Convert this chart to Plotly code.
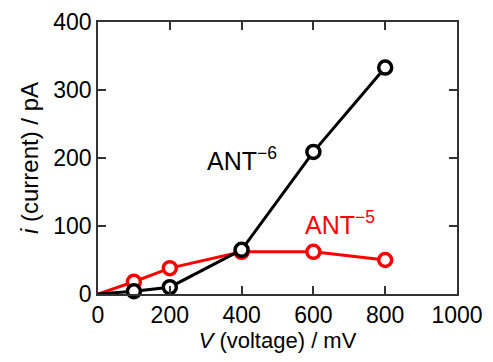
import plotly.graph_objects as go

voltage = [0, 100, 200, 400, 600, 800]
ant6_current = [0, 4, 10, 65, 209, 333]
ant5_current = [0, 18, 38, 62, 62, 50]
x_ticks = [0, 200, 400, 600, 800, 1000]
y_ticks = [0, 100, 200, 300, 400]

FONT = "Liberation Sans, Arial, Helvetica, sans-serif"

fig = go.Figure()
for y, color in [(ant5_current, "#ff0000"), (ant6_current, "#000000")]:
    fig.add_trace(go.Scatter(
        x=voltage, y=y, mode="lines",
        line=dict(color=color, width=3),
        showlegend=False, cliponaxis=False,
    ))
    fig.add_trace(go.Scatter(
        x=voltage[1:], y=y[1:], mode="markers",
        marker=dict(size=13, color="white", opacity=1,
                    line=dict(color=color, width=3.5)),
        showlegend=False, cliponaxis=False,
    ))

fig.add_annotation(x=402, y=198, text="ANT<sup>−6</sup>", showarrow=False,
                   font=dict(family=FONT, size=25, color="black"))
fig.add_annotation(x=675, y=104, text="ANT<sup>−5</sup>", showarrow=False,
                   font=dict(family=FONT, size=25, color="#ff0000"))

axis_common = dict(
    showline=True, linecolor="#333333", linewidth=1.5, mirror="ticks",
    ticks="inside", ticklen=8, tickwidth=1.5, tickcolor="#333333",
    showgrid=False, zeroline=False, automargin=False,
    tickfont=dict(family=FONT, size=23, color="black"),
)

fig.update_xaxes(range=[0, 1000], tickvals=x_ticks,
                 title=dict(text="<i>V</i> (voltage) / mV", standoff=4,
                            font=dict(family=FONT, size=22, color="black")),
                 **axis_common)
fig.update_yaxes(range=[0, 400], tickvals=y_ticks,
                 title=dict(text="<i>i</i> (current) / pA", standoff=8,
                            font=dict(family=FONT, size=24, color="black")),
                 **axis_common)

fig.update_layout(
    width=493, height=362,
    margin=dict(l=90, r=44, t=14, b=76),
    paper_bgcolor="white", plot_bgcolor="white",
)

fig.write_html("out.html")
